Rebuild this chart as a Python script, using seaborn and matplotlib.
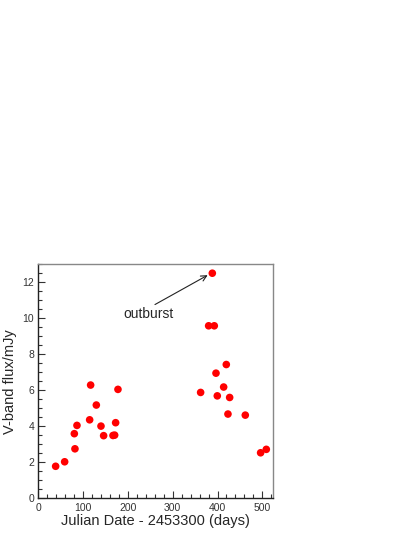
import numpy as np
import pandas as pd
import seaborn as sns
import matplotlib.pyplot as plt
from matplotlib.ticker import MultipleLocator

# Light curve values
julian_day = [38.7, 58.8, 80.4, 81.8, 86.3, 114.6, 116.8, 129.5, 139.9, 145.8,
              166.7, 170.4, 172.6, 177.8, 362.3, 380.2, 388.4, 392.8, 396.6,
              399.5, 413.7, 419.6, 423.3, 427.1, 462.0, 496.2, 508.9]
flux = [1.78, 2.03, 3.59, 2.75, 4.05, 4.36, 6.29, 5.18, 4.01, 3.48,
        3.49, 3.51, 4.20, 6.05, 5.88, 9.58, 12.5, 9.58, 6.95,
        5.69, 6.18, 7.43, 4.68, 5.60, 4.62, 2.53, 2.72]

df = pd.DataFrame({"jd": julian_day, "flux": flux})

sns.set_style("white")
plt.rcParams['font.family'] = ['Liberation Sans', 'DejaVu Sans']

fig = plt.figure(figsize=(4.15, 5.37), dpi=100)
ax = fig.add_axes([0.0923, 0.072, 0.5657, 0.436])

sns.scatterplot(data=df, x="jd", y="flux", ax=ax, color="red",
                s=30, edgecolor="none", linewidth=0)

ax.set_xlim(0, 524)
ax.set_ylim(0, 13)
ax.xaxis.set_major_locator(MultipleLocator(100))
ax.xaxis.set_minor_locator(MultipleLocator(20))
ax.yaxis.set_major_locator(MultipleLocator(2))
ax.yaxis.set_minor_locator(MultipleLocator(0.5))
ax.tick_params(which="both", direction="in", bottom=True, left=True,
               top=False, right=False, color="#333333",
               labelsize=7.5, labelcolor="#333333", pad=3)
ax.tick_params(which="major", length=5, width=0.8)
ax.tick_params(which="minor", length=3, width=0.8)
for sp in ax.spines.values():
    sp.set_color("#888888")
    sp.set_linewidth(1.0)
ax.spines["left"].set_color("#222222")
ax.spines["bottom"].set_color("#222222")

ax.set_xlabel("Julian Date - 2453300 (days)", fontsize=10.5, labelpad=1)
ax.set_ylabel("V-band flux/mJy", fontsize=10.5, labelpad=4)

ax.text(245, 10.22, "outburst", fontsize=10, ha="center", va="center")
ax.annotate("", xy=(378, 12.39), xytext=(260.4, 10.76),
            arrowprops=dict(arrowstyle="->", color="#222222", lw=0.8,
                            shrinkA=0, shrinkB=0))

fig.savefig("out.png", dpi=100)
